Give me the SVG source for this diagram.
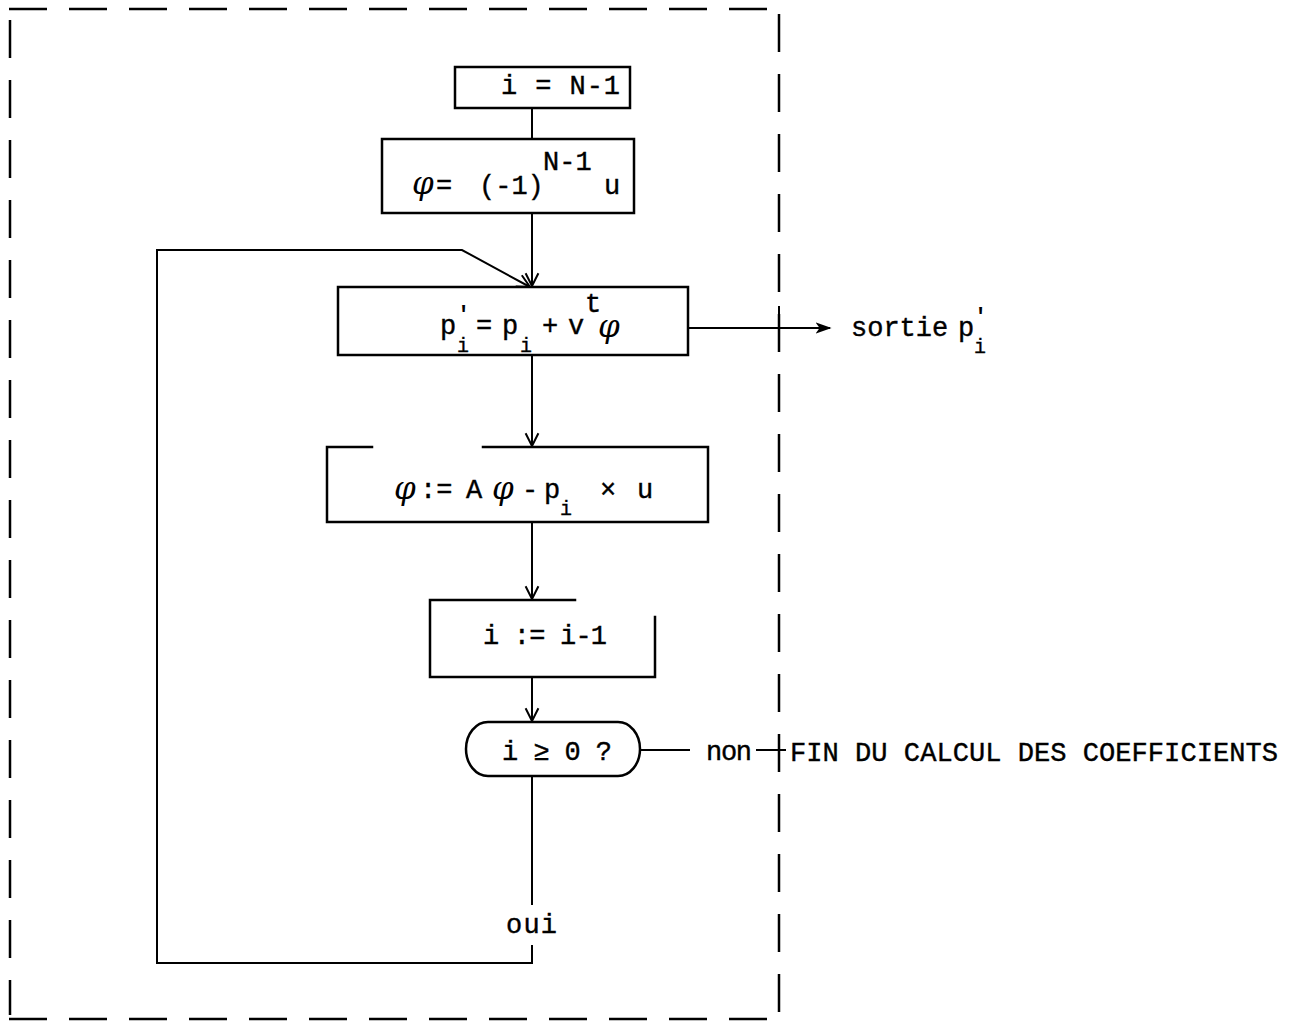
<svg xmlns="http://www.w3.org/2000/svg" width="1294" height="1025" viewBox="0 0 1294 1025">
<style>
.box{fill:none;stroke:#000;stroke-width:2.5;stroke-linecap:square}
.ln{fill:none;stroke:#000;stroke-width:2}
.frame{fill:none;stroke:#000;stroke-width:2.5;stroke-dasharray:38 22}
.t{font-family:"Liberation Mono","DejaVu Sans Mono",monospace;font-size:27px;fill:#000;stroke:#000;stroke-width:0.4}
.s{font-family:"Liberation Mono","DejaVu Sans Mono",monospace;font-size:20px;fill:#000;stroke:#000;stroke-width:0.3}
.pr{font-family:"Liberation Mono","DejaVu Sans Mono",monospace;font-size:22px;font-weight:bold;fill:#000}
.phi{font-family:"DejaVu Serif","Liberation Serif",serif;font-style:italic;font-size:31px;fill:#000}
.fin{font-family:"Liberation Mono","DejaVu Sans Mono",monospace;font-size:28px;fill:#000;stroke:#000;stroke-width:0.4}
</style>
<defs>
<marker id="v" viewBox="0 0 20 20" refX="18" refY="10" markerWidth="16" markerHeight="16" markerUnits="userSpaceOnUse" orient="auto">
<path d="M2 2 L18 10 L2 18" fill="none" stroke="#000" stroke-width="2.5"/>
</marker>
<marker id="tri" viewBox="0 0 20 20" refX="18" refY="10" markerWidth="16" markerHeight="16" markerUnits="userSpaceOnUse" orient="auto">
<path d="M0 3 L20 10 L0 17 L5 10 Z" fill="#000"/>
</marker>
</defs>

<g id="frame">
<line class="frame" x1="9" y1="9" x2="780" y2="9"/>
<line class="frame" x1="9" y1="1019" x2="780" y2="1019"/>
<line class="frame" x1="10" y1="20" x2="10" y2="1015"/>
<line class="frame" x1="779" y1="14" x2="779" y2="1015"/>
<line class="ln" x1="779" y1="306" x2="779" y2="332"/>
<line class="ln" x1="779" y1="736" x2="779" y2="766"/>
</g>

<g id="connectors">
<line class="ln" x1="532" y1="108" x2="532" y2="139"/>
<line class="ln" x1="532" y1="214" x2="532" y2="286" marker-end="url(#v)"/>
<line class="ln" x1="532" y1="355" x2="532" y2="446" marker-end="url(#v)"/>
<line class="ln" x1="532" y1="523" x2="532" y2="599" marker-end="url(#v)"/>
<line class="ln" x1="532" y1="677" x2="532" y2="721" marker-end="url(#v)"/>
<line class="ln" x1="688" y1="328" x2="830" y2="328" marker-end="url(#tri)"/>
<line class="ln" x1="640" y1="750" x2="690" y2="750"/>
<line class="ln" x1="756" y1="750" x2="786" y2="750"/>
<line class="ln" x1="532" y1="776" x2="532" y2="905"/>
<path class="ln" d="M532 945 V963 H157 V250 H462 L530 287" marker-end="url(#v)"/>
<text class="t" x="506" y="933" textLength="51" lengthAdjust="spacing">oui</text>
<text class="t" x="706" y="760" textLength="46" lengthAdjust="spacing">non</text>
</g>

<g id="n1">
<rect class="box" x="455" y="67" width="175" height="41"/>
<text class="t" x="501" y="94" textLength="119" lengthAdjust="spacing">i = N-1</text>
</g>

<g id="n2">
<rect class="box" x="382" y="139" width="252" height="74"/>
<text class="phi" x="412" y="194">φ</text>
<text class="t" x="436" y="194">=</text>
<text class="t" x="479" y="194">(-1)</text>
<text class="t" x="543" y="170">N-1</text>
<text class="t" x="604" y="194">u</text>
</g>

<g id="n3">
<rect class="box" x="338" y="287" width="350" height="68"/>
<text class="t" x="440" y="334">p</text>
<text class="pr" x="457" y="321">'</text>
<text class="s" x="457" y="352">i</text>
<text class="t" x="476" y="334">=</text>
<text class="t" x="502" y="334">p</text>
<text class="s" x="520" y="352">i</text>
<text class="t" x="542" y="334">+</text>
<text class="t" x="568" y="334">v</text>
<text class="t" x="585" y="312">t</text>
<text class="phi" x="598" y="337">φ</text>
</g>

<g id="out">
<text class="t" x="851" y="336">sortie</text>
<text class="t" x="958" y="336">p</text>
<text class="pr" x="974" y="323">'</text>
<text class="s" x="974" y="353">i</text>
</g>

<g id="n4">
<path class="box" d="M372 447 H327 V522 H708 V447 H483"/>
<text class="phi" x="394" y="499">φ</text>
<text class="t" x="420" y="498">:=</text>
<text class="t" x="466" y="498">A</text>
<text class="phi" x="492" y="499">φ</text>
<text class="t" x="522" y="498">-</text>
<text class="t" x="544" y="498">p</text>
<text class="s" x="560" y="515">i</text>
<text class="t" x="600" y="498">×</text>
<text class="t" x="637" y="498">u</text>
</g>

<g id="n5">
<path class="box" d="M575 600 H430 V677 H655 V617"/>
<text class="t" x="483" y="644" textLength="124" lengthAdjust="spacing">i := i-1</text>
</g>

<g id="n6">
<rect class="box" x="466" y="722" width="174" height="54" rx="22" ry="27"/>
<text class="t" x="502" y="760" textLength="110" lengthAdjust="spacing">i ≥ 0 ?</text>
</g>

<g id="end">
<text class="fin" x="790" y="761" textLength="488" lengthAdjust="spacingAndGlyphs">FIN DU CALCUL DES COEFFICIENTS</text>
</g>
</svg>
